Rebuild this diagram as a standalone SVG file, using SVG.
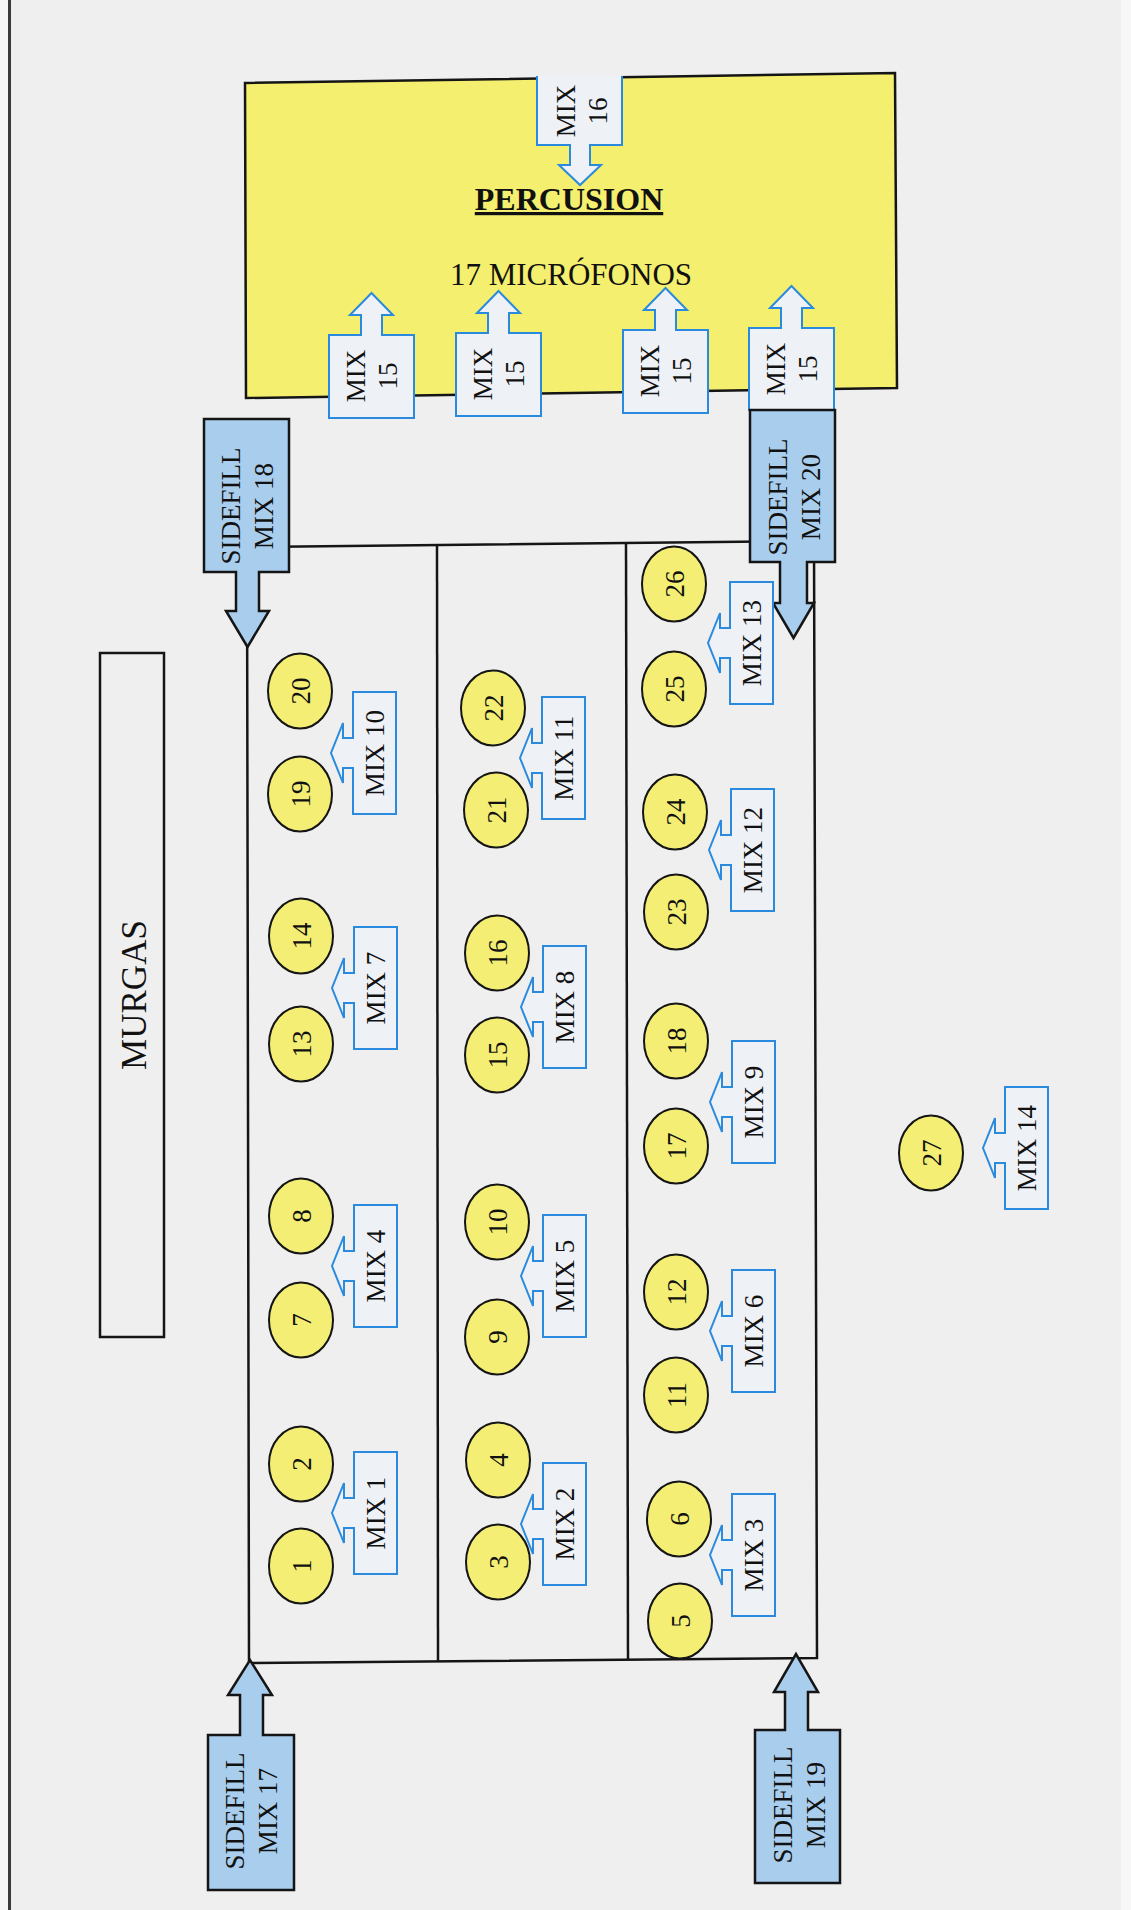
<svg xmlns="http://www.w3.org/2000/svg" width="1131" height="1910" viewBox="0 0 1131 1910">
<style>
.t{font-family:"Liberation Serif","Times New Roman",serif;font-size:27px;fill:#111;text-anchor:middle}
.mix{fill:#eef2f7;stroke:#2a8ade;stroke-width:2;stroke-linejoin:miter}
.side{fill:#a9cdec;stroke:#151515;stroke-width:2.5}
.mic{fill:#f4ef74;stroke:#151515;stroke-width:2}
.ln{fill:none;stroke:#151515;stroke-width:2.5}
</style>
<rect width="1131" height="1910" fill="#efefef"/>
<rect x="0" y="0" width="8" height="1910" fill="#f6f6f6"/>
<rect x="8" y="0" width="3" height="1910" fill="#3a3a3a"/>
<rect x="1121" y="0" width="10" height="1910" fill="#f7f7f7"/>

<g id="stage">
<polygon class="ln" points="247,547 814,541 817,1658 249,1663"/>
<line class="ln" x1="437" y1="545" x2="438" y2="1662"/>
<line class="ln" x1="626" y1="543" x2="628" y2="1660"/>
</g>

<g id="percusion">
<polygon points="245,83 895,73 897,388 246,398" fill="#f4ef6e" stroke="#151515" stroke-width="2.5"/>
<text class="t" x="569" y="210" style="font-size:32px;font-weight:bold;text-decoration:underline">PERCUSION</text>
<text class="t" x="571" y="285" style="font-size:31px">17 MICRÓFONOS</text>
</g>

<g id="mix16">
<path class="mix" d="M537,76V145H570V165H559L580,185L601,165H590V145H622V76"/>
<text class="t" transform="translate(581,111) rotate(-90)"><tspan x="0" y="-6.5">MIX</tspan><tspan x="0" y="25.5">16</tspan></text>
</g>

<g id="mix15a">
<path class="mix" d="M329,418V335H361V315H350L371.5,293L393,315H382V335H414V418Z"/>
<text class="t" transform="translate(371.5,376) rotate(-90)"><tspan x="0" y="-6.5">MIX</tspan><tspan x="0" y="25.5">15</tspan></text>
</g>
<g id="mix15b">
<path class="mix" d="M456,416V333H488V313H477L498.5,291L520,313H509V333H541V416Z"/>
<text class="t" transform="translate(498.5,374) rotate(-90)"><tspan x="0" y="-6.5">MIX</tspan><tspan x="0" y="25.5">15</tspan></text>
</g>
<g id="mix15c">
<path class="mix" d="M623,413V330H655V310H644L665.5,288L687,310H676V330H708V413Z"/>
<text class="t" transform="translate(665.5,371) rotate(-90)"><tspan x="0" y="-6.5">MIX</tspan><tspan x="0" y="25.5">15</tspan></text>
</g>
<g id="mix15d">
<path class="mix" d="M749,410V328H781V308H770L791.5,286L813,308H802V328H834V410Z"/>
<text class="t" transform="translate(791.5,369) rotate(-90)"><tspan x="0" y="-6.5">MIX</tspan><tspan x="0" y="25.5">15</tspan></text>
</g>

<g id="sidefill18">
<path class="side" d="M204,419H289V572H259V611H269L247.5,647L226,611H236V572H204Z"/>
<text class="t" transform="translate(246.5,506) rotate(-90)"><tspan x="0" y="-7">SIDEFILL</tspan><tspan x="0" y="26">MIX 18</tspan></text>
</g>
<g id="sidefill20">
<path class="side" d="M750,410H835V562H807V603H814L793.5,638L773,603H780V562H750Z"/>
<text class="t" transform="translate(793.5,497) rotate(-90)"><tspan x="0" y="-7">SIDEFILL</tspan><tspan x="0" y="26">MIX 20</tspan></text>
</g>
<g id="sidefill17">
<path class="side" d="M208,1890V1735H240V1695H228L250,1660L272,1695H263V1735H294V1890Z"/>
<text class="t" transform="translate(251,1811) rotate(-90)"><tspan x="0" y="-7">SIDEFILL</tspan><tspan x="0" y="26">MIX 17</tspan></text>
</g>
<g id="sidefill19">
<path class="side" d="M755,1883V1730H785V1692H774L796,1654L818,1692H808V1730H840V1883Z"/>
<text class="t" transform="translate(798.5,1805) rotate(-90)"><tspan x="0" y="-7">SIDEFILL</tspan><tspan x="0" y="26">MIX 19</tspan></text>
</g>

<g id="murgas">
<rect x="100" y="653" width="64" height="684" fill="none" stroke="#151515" stroke-width="2.5"/>
<text class="t" style="font-size:35px" transform="translate(134,995) rotate(-90)" y="12">MURGAS</text>
</g>

<g id="mics">
<g id="mic1"><ellipse class="mic" cx="301" cy="1566" rx="32" ry="37.5"/><text class="t" transform="translate(301,1566) rotate(-90)" y="9.5">1</text></g>
<g id="mic2"><ellipse class="mic" cx="301" cy="1464" rx="32" ry="37.5"/><text class="t" transform="translate(301,1464) rotate(-90)" y="9.5">2</text></g>
<g id="mic3"><ellipse class="mic" cx="498" cy="1562" rx="32" ry="37.5"/><text class="t" transform="translate(498,1562) rotate(-90)" y="9.5">3</text></g>
<g id="mic4"><ellipse class="mic" cx="498" cy="1460" rx="32" ry="37.5"/><text class="t" transform="translate(498,1460) rotate(-90)" y="9.5">4</text></g>
<g id="mic5"><ellipse class="mic" cx="680" cy="1621" rx="32" ry="37.5"/><text class="t" transform="translate(680,1621) rotate(-90)" y="9.5">5</text></g>
<g id="mic6"><ellipse class="mic" cx="679" cy="1519" rx="32" ry="37.5"/><text class="t" transform="translate(679,1519) rotate(-90)" y="9.5">6</text></g>
<g id="mic7"><ellipse class="mic" cx="301" cy="1320" rx="32" ry="37.5"/><text class="t" transform="translate(301,1320) rotate(-90)" y="9.5">7</text></g>
<g id="mic8"><ellipse class="mic" cx="301" cy="1216" rx="32" ry="37.5"/><text class="t" transform="translate(301,1216) rotate(-90)" y="9.5">8</text></g>
<g id="mic9"><ellipse class="mic" cx="497" cy="1337" rx="32" ry="37.5"/><text class="t" transform="translate(497,1337) rotate(-90)" y="9.5">9</text></g>
<g id="mic10"><ellipse class="mic" cx="497" cy="1222" rx="32" ry="37.5"/><text class="t" transform="translate(497,1222) rotate(-90)" y="9.5">10</text></g>
<g id="mic11"><ellipse class="mic" cx="676" cy="1395" rx="32" ry="37.5"/><text class="t" transform="translate(676,1395) rotate(-90)" y="9.5">11</text></g>
<g id="mic12"><ellipse class="mic" cx="676" cy="1292" rx="32" ry="37.5"/><text class="t" transform="translate(676,1292) rotate(-90)" y="9.5">12</text></g>
<g id="mic13"><ellipse class="mic" cx="301" cy="1044" rx="32" ry="37.5"/><text class="t" transform="translate(301,1044) rotate(-90)" y="9.5">13</text></g>
<g id="mic14"><ellipse class="mic" cx="301" cy="936" rx="32" ry="37.5"/><text class="t" transform="translate(301,936) rotate(-90)" y="9.5">14</text></g>
<g id="mic15"><ellipse class="mic" cx="497" cy="1055" rx="32" ry="37.5"/><text class="t" transform="translate(497,1055) rotate(-90)" y="9.5">15</text></g>
<g id="mic16"><ellipse class="mic" cx="497" cy="953" rx="32" ry="37.5"/><text class="t" transform="translate(497,953) rotate(-90)" y="9.5">16</text></g>
<g id="mic17"><ellipse class="mic" cx="676" cy="1146" rx="32" ry="37.5"/><text class="t" transform="translate(676,1146) rotate(-90)" y="9.5">17</text></g>
<g id="mic18"><ellipse class="mic" cx="676" cy="1041" rx="32" ry="37.5"/><text class="t" transform="translate(676,1041) rotate(-90)" y="9.5">18</text></g>
<g id="mic19"><ellipse class="mic" cx="300" cy="794" rx="32" ry="37.5"/><text class="t" transform="translate(300,794) rotate(-90)" y="9.5">19</text></g>
<g id="mic20"><ellipse class="mic" cx="300" cy="691" rx="32" ry="37.5"/><text class="t" transform="translate(300,691) rotate(-90)" y="9.5">20</text></g>
<g id="mic21"><ellipse class="mic" cx="496" cy="810" rx="32" ry="37.5"/><text class="t" transform="translate(496,810) rotate(-90)" y="9.5">21</text></g>
<g id="mic22"><ellipse class="mic" cx="493" cy="708" rx="32" ry="37.5"/><text class="t" transform="translate(493,708) rotate(-90)" y="9.5">22</text></g>
<g id="mic23"><ellipse class="mic" cx="676" cy="912" rx="32" ry="37.5"/><text class="t" transform="translate(676,912) rotate(-90)" y="9.5">23</text></g>
<g id="mic24"><ellipse class="mic" cx="675" cy="812" rx="32" ry="37.5"/><text class="t" transform="translate(675,812) rotate(-90)" y="9.5">24</text></g>
<g id="mic25"><ellipse class="mic" cx="674" cy="689" rx="32" ry="37.5"/><text class="t" transform="translate(674,689) rotate(-90)" y="9.5">25</text></g>
<g id="mic26"><ellipse class="mic" cx="674" cy="584" rx="32" ry="37.5"/><text class="t" transform="translate(674,584) rotate(-90)" y="9.5">26</text></g>
<g id="mic27"><ellipse class="mic" cx="931" cy="1153" rx="32" ry="37.5"/><text class="t" transform="translate(931,1153) rotate(-90)" y="9.5">27</text></g>
</g>

<g id="monitors">
<g id="mix1"><path class="mix" d="M354,1452h43v122h-43V1528h-10v15l-12,-30l12,-30v15h10z"/><text class="t" transform="translate(375.5,1513) rotate(-90)" y="9">MIX 1</text></g>
<g id="mix2"><path class="mix" d="M543,1463h43v122h-43V1539h-10v15l-12,-30l12,-30v15h10z"/><text class="t" transform="translate(564.5,1524) rotate(-90)" y="9">MIX 2</text></g>
<g id="mix3"><path class="mix" d="M732,1494h43v122h-43V1570h-10v15l-12,-30l12,-30v15h10z"/><text class="t" transform="translate(753.5,1555) rotate(-90)" y="9">MIX 3</text></g>
<g id="mix4"><path class="mix" d="M354,1205h43v122h-43V1281h-10v15l-12,-30l12,-30v15h10z"/><text class="t" transform="translate(375.5,1266) rotate(-90)" y="9">MIX 4</text></g>
<g id="mix5"><path class="mix" d="M543,1215h43v122h-43V1291h-10v15l-12,-30l12,-30v15h10z"/><text class="t" transform="translate(564.5,1276) rotate(-90)" y="9">MIX 5</text></g>
<g id="mix6"><path class="mix" d="M732,1270h43v122h-43V1346h-10v15l-12,-30l12,-30v15h10z"/><text class="t" transform="translate(753.5,1331) rotate(-90)" y="9">MIX 6</text></g>
<g id="mix7"><path class="mix" d="M354,927h43v122h-43V1003h-10v15l-12,-30l12,-30v15h10z"/><text class="t" transform="translate(375.5,988) rotate(-90)" y="9">MIX 7</text></g>
<g id="mix8"><path class="mix" d="M543,946h43v122h-43V1022h-10v15l-12,-30l12,-30v15h10z"/><text class="t" transform="translate(564.5,1007) rotate(-90)" y="9">MIX 8</text></g>
<g id="mix9"><path class="mix" d="M732,1041h43v122h-43V1117h-10v15l-12,-30l12,-30v15h10z"/><text class="t" transform="translate(753.5,1102) rotate(-90)" y="9">MIX 9</text></g>
<g id="mix10"><path class="mix" d="M353,692h43v122h-43V768h-10v15l-12,-30l12,-30v15h10z"/><text class="t" transform="translate(374.5,753) rotate(-90)" y="9">MIX 10</text></g>
<g id="mix11"><path class="mix" d="M542,697h43v122h-43V773h-10v15l-12,-30l12,-30v15h10z"/><text class="t" transform="translate(563.5,758) rotate(-90)" y="9">MIX 11</text></g>
<g id="mix12"><path class="mix" d="M731,789h43v122h-43V865h-10v15l-12,-30l12,-30v15h10z"/><text class="t" transform="translate(752.5,850) rotate(-90)" y="9">MIX 12</text></g>
<g id="mix13"><path class="mix" d="M730,582h43v122h-43V658h-10v15l-12,-30l12,-30v15h10z"/><text class="t" transform="translate(751.5,643) rotate(-90)" y="9">MIX 13</text></g>
<g id="mix14"><path class="mix" d="M1005,1087h43v122h-43V1163h-10v15l-12,-30l12,-30v15h10z"/><text class="t" transform="translate(1026.5,1148) rotate(-90)" y="9">MIX 14</text></g>
</g>
<g id="connectors"/>
</svg>
